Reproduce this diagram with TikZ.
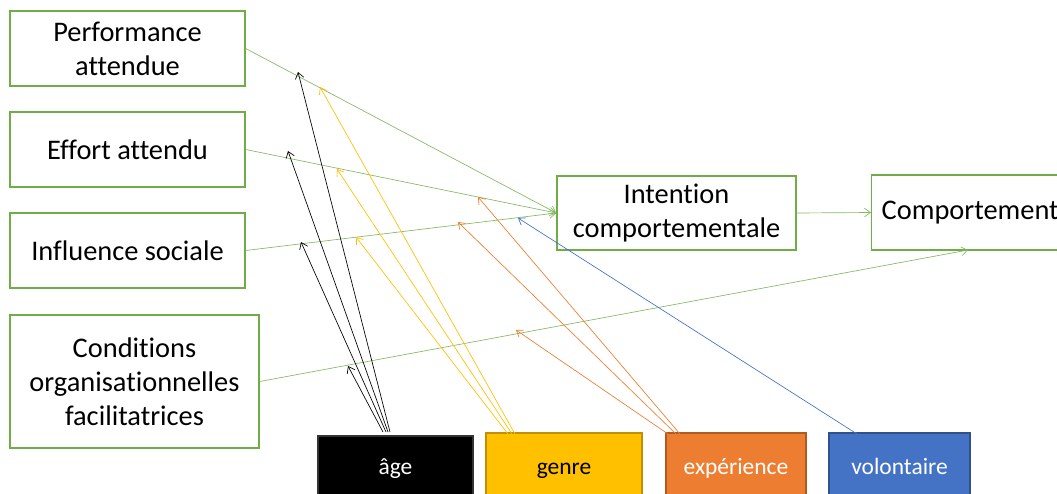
\documentclass[tikz,border=0pt]{standalone}
\usepackage{fontspec}
\setmainfont{Carlito}[Ligatures=CommonOff]
\usetikzlibrary{arrows.meta,calc}
\definecolor{grn}{HTML}{70AD47}
\definecolor{ylw}{HTML}{FFC000}
\definecolor{ylwd}{HTML}{BF9000}
\definecolor{org}{HTML}{ED7D31}
\definecolor{orgd}{HTML}{AE5A21}
\definecolor{blu}{HTML}{4472C4}
\definecolor{blud}{HTML}{2F528F}
\begin{document}
\begin{tikzpicture}[x=0.75pt,y=-0.75pt,
  box/.style={draw=grn,line width=1.1pt,fill=white,align=center,inner sep=0pt,
    font=\fontsize{21.3}{25.4}\selectfont},
  mod/.style={line width=0.8pt,inner sep=0pt,text height=12pt,text depth=3.5pt,
    font=\fontsize{17.6}{21}\selectfont},
  arr/.style={line width=0.5pt,-{Straight Barb[length=4.5pt,width=6.5pt]}},
  garr/.style={arr,draw=grn!85!white}]
\useasboundingbox (0,0) rectangle (1057,493);
\clip (0,0) rectangle (1057,493);
% left boxes
\node[box,minimum width={235*0.75pt},minimum height={75*0.75pt}] (perf) at (127.5,48.5) {Performance\\attendue};
\node[box,minimum width={235*0.75pt},minimum height={75*0.75pt}] (eff) at (127.5,149.5) {Effort attendu};
\node[box,minimum width={235*0.75pt},minimum height={75*0.75pt}] (infl) at (127.5,250.5) {Influence sociale};
\node[box,minimum width={249*0.75pt},minimum height={133*0.75pt}] (cond) at (134.5,381.5) {Conditions\\organisationnelles\\facilitatrices};
% middle / right
\node[box,minimum width={239*0.75pt},minimum height={74*0.75pt}] (int) at (676.5,213) {Intention\\comportementale};
\node[box,anchor=west,align=left,text width={200*0.75pt},inner xsep={10*0.75pt},minimum height={75*0.75pt}] (comp) at (871,212.5) {Comportement};
% moderators
\node[mod,draw=black!80,fill=black,text=white,minimum width={155*0.75pt},minimum height={66*0.75pt}] (age) at (395.5,469) {âge};
\node[mod,draw=ylwd,fill=ylw,text=black,minimum width={156*0.75pt},minimum height={72*0.75pt}] (gen) at (564,469) {genre};
\node[mod,draw=orgd,fill=org,text=white,minimum width={140*0.75pt},minimum height={72*0.75pt}] (exp) at (736,469) {expérience};
\node[mod,draw=blud,fill=blu,text=white,minimum width={141*0.75pt},minimum height={72*0.75pt}] (vol) at (899.5,469) {volontaire};
% main arrows
\draw[garr] (perf.east) -- (int.west);
\draw[garr] (eff.east) -- (int.west);
\draw[garr] (infl.east) -- (int.west);
\draw[garr] (int.east) -- (comp.west);
\coordinate (compin) at (968,250);
\draw[garr] (cond.east) -- (compin);
% tails
\coordinate (a1) at (390,432);
\coordinate (a2) at (388,432);
\coordinate (a3) at (386,432);
\coordinate (a4) at (383,432);
\coordinate (g1) at (515,434);
\coordinate (g2) at (512,434);
\coordinate (g3) at (508,434);
\coordinate (e1) at (680,434);
\coordinate (e2) at (676,434);
\coordinate (e3) at (668,434);
\coordinate (v1) at (857,434);
% tips
\coordinate (ta1) at (298,72);
\coordinate (ta2) at (288,151);
\coordinate (ta3) at (301,242);
\coordinate (ta4) at (348,366);
\coordinate (tg1) at (320,87);
\coordinate (tg2) at (337,169);
\coordinate (tg3) at (356,237);
\coordinate (te1) at (478,197);
\coordinate (te2) at (458,222);
\coordinate (te3) at (516,330);
\coordinate (tv1) at (518,218);
\draw[arr,black] (a1) -- (ta1);
\draw[arr,black] (a2) -- (ta2);
\draw[arr,black] (a3) -- (ta3);
\draw[arr,black] (a4) -- (ta4);
\draw[arr,ylw] (g1) -- (tg1);
\draw[arr,ylw] (g2) -- (tg2);
\draw[arr,ylw] (g3) -- (tg3);
\draw[arr,org] (e1) -- (te1);
\draw[arr,org] (e2) -- (te2);
\draw[arr,org] (e3) -- (te3);
\draw[arr,blu] (v1) -- (tv1);
\end{tikzpicture}
\end{document}
